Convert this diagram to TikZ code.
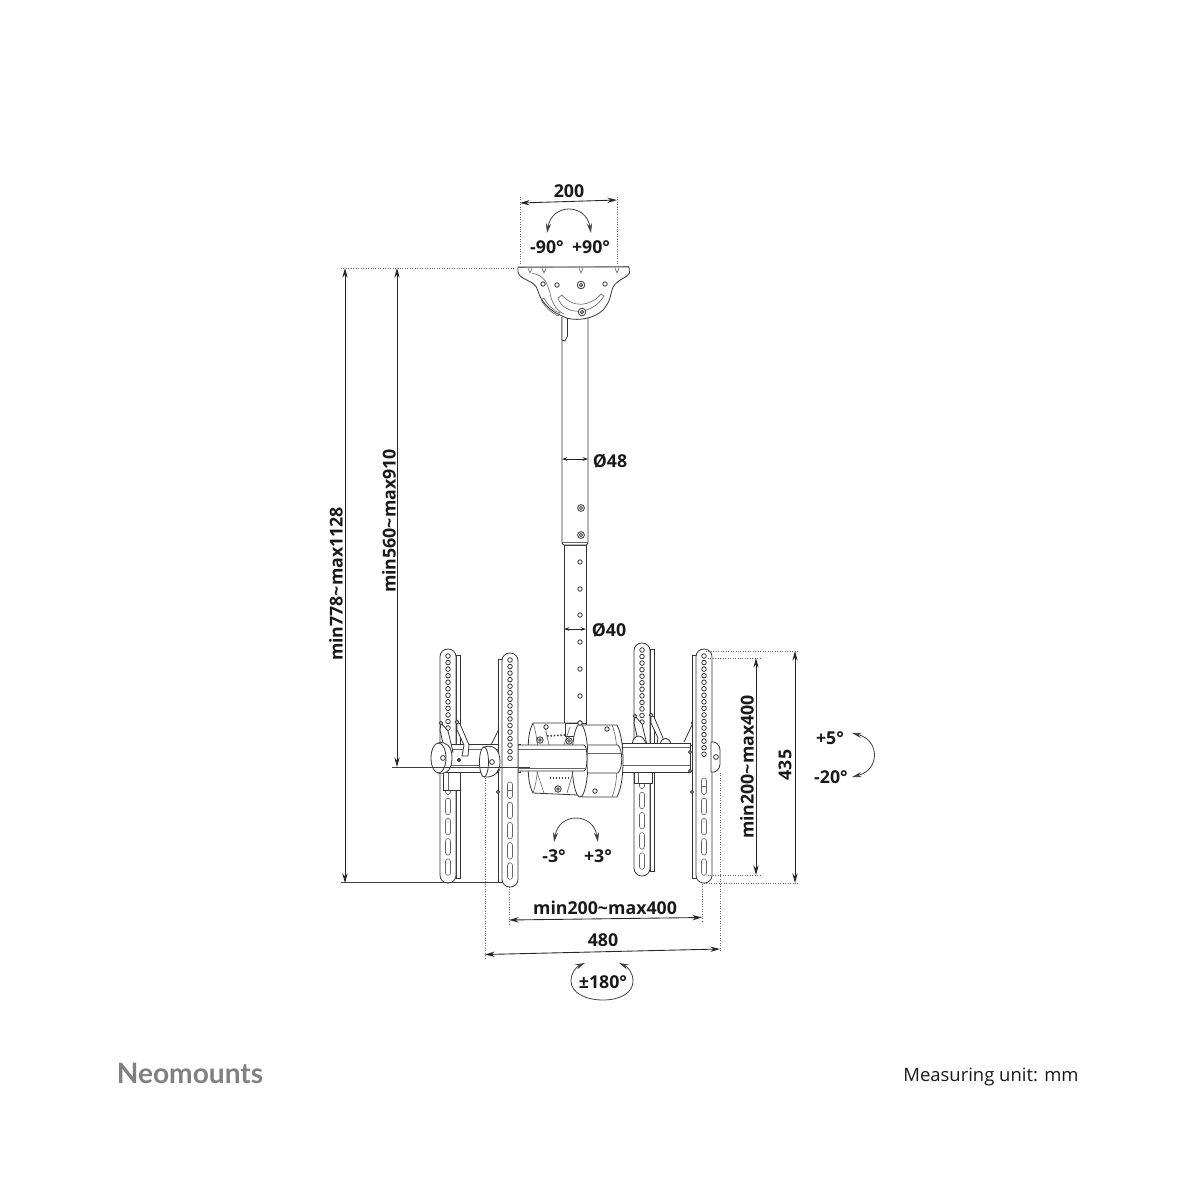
\documentclass[tikz,border=0pt]{standalone}
\usepackage{fontspec}
\usetikzlibrary{arrows.meta}
\setmainfont{Open Sans}
\newfontfamily\logofont{Lato}

\tikzset{
part/.style={draw=black!80, line width=0.45pt, fill=white},
detail/.style={draw=black!60, line width=0.35pt},
dim/.style={draw=black!85, line width=0.5pt, {Stealth[length=5.5pt,width=3pt]}-{Stealth[length=5.5pt,width=3pt]}},
tinydim/.style={draw=black!85, line width=0.4pt, {Stealth[length=3pt,width=2pt]}-{Stealth[length=3pt,width=2pt]}},
turn/.style={draw=black!75, line width=0.45pt, {Stealth[length=5.5pt,width=3pt]}-{Stealth[length=5.5pt,width=3pt]}},
guide/.style={draw=black!60, line width=0.4pt, densely dotted},
leader/.style={draw=black!75, line width=0.4pt},
lab/.style={font=\fontsize{10.1}{12}\selectfont\bfseries, inner sep=0pt, text=black!90},
hole/.style={draw=black!80, line width=0.45pt, fill=white}
}

% x of the plate centre, top, bottom, side of the flange, last hole number, y of first slot
\newcommand{\vplate}[6]{
\draw[part] ({#1+#4*8},{#2+6}) rectangle ({#1+#4*12},{#3-5});
\draw[part, rounded corners=4.4pt] ({#1-8},#2) rectangle ({#1+8},#3);
\foreach \yy in {0,...,#5} {
	\pgfmathsetmacro{\hy}{#2+7+\yy*6.55}
	\draw[hole] (#1,\hy) circle (2.3);
}
\foreach \yy in {0,...,4} {
	\pgfmathsetmacro{\sy}{#6+\yy*20.2}
	\draw[detail, rounded corners=1.4pt] ({#1-2.5},\sy) rectangle ({#1+2.5},{\sy+16.5});
}
\draw[detail] ({#1-2.5},{#6+8}) -- ({#1+2.5},{#6+8});
}

% the two hooks that hold a far plate on the cross bar
\newcommand{\hookpair}[2]{
\draw[part] ({#1-7},{#2-25}) -- (#1,{#2-17}) -- ({#1+5},{#2+4}) -- ({#1-3},{#2+4}) -- ({#1-8},{#2-18}) -- cycle;
\draw[part] ({#1+9},{#2-26}) -- ({#1+12},{#2-24}) -- ({#1+21},{#2-3}) -- ({#1+20},{#2+8}) -- ({#1+14},{#2+8}) -- ({#1+16},{#2-3}) -- ({#1+9},{#2-18}) -- cycle;
\draw[hole] ({#1-7},{#2-25}) circle (1.8);
\draw[hole] ({#1+9},{#2-26}) circle (1.8);
}

\begin{document}
\begin{tikzpicture}[x=0.02cm,y=-0.02cm]
\useasboundingbox (0,0) rectangle (1200,1200);

% upright pole
\draw[part] (564.5,545) rectangle (586,737);
\foreach \hy in {562,589,615,642,669,696,723} {
	\draw[hole] (580,\hy) circle (2.2);
}
\draw[part, rounded corners=1pt] (562,317) -- (562,545) -- (588,545) -- (588,317);
\draw[detail] (562,542) -- (588,542);
\draw[part] (562,317) -- (562,340) -- (565,341) -- (567.5,336) -- (567.5,318);
\foreach \hy in {508,535} {
	\draw[hole] (581,\hy) circle (3.4);
	\draw[hole] (581,\hy) circle (1.6);
}

% ceiling bracket
\draw[part] (518,267) -- (629,267) -- (629.5,273) .. controls (627,278) and (618,279) .. (613,287)
	.. controls (610,295) and (611,301) .. (603,310) .. controls (593,320) and (572,322) .. (562,316)
	.. controls (550,311) and (541,302) .. (538,291) .. controls (535,279) and (520,281) .. (518,272) -- cycle;
\draw[detail] (518,267.5) -- (629,266.5);
\draw[detail] (532,273) .. controls (545,276) and (547,283) .. (550,293) .. controls (551,300) and (555,310) .. (564,314);
\draw[detail] (558,298) .. controls (564,316) and (592,316) .. (604,296) -- (601,294) .. controls (590,307) and (572,308) .. (562,295) -- cycle;
\draw[detail] (544,298) .. controls (548,306) and (554,311) .. (560,313) -- (558,316) .. controls (552,313) and (545,307) .. (541,300) -- cycle;
\foreach \hx/\hy in {543/284, 557/285, 605/284} {
	\draw[hole] (\hx,\hy) circle (2.2);
}
\foreach \hx/\hy in {581/285, 582/312} {
	\draw[hole] (\hx,\hy) circle (3.8);
	\draw[hole] (\hx,\hy) circle (1.7);
}
\foreach \hx in {530,544,581,617} {
	\draw[detail] ({\hx-2},268) -- (\hx,273) -- ({\hx+2},268);
}

% far plates, behind the cross bar
\vplate{448}{649}{883}{1}{11}{778}
\vplate{642}{643}{876}{1}{11}{772}
\draw[part] (443,772) rectangle (460,790);
\draw[detail] (448,772) -- (448,790);
\draw[part] (634,772) rectangle (652,783);
\draw[detail] (638,772) -- (638,783);
\hookpair{642}{741}
\draw[part] (632,745) .. controls (633,733) and (644,733) .. (646,745);
\draw[part] (660,745) .. controls (661,736) and (670,736) .. (671,745);

% cross bar
\draw[part] (440,744) rectangle (520,772);
\draw[detail] (440,749) -- (520,749);
\draw[detail] (440,765) -- (520,765);
\draw[part] (622,743) rectangle (690,772);
\draw[detail] (622,747) -- (690,747);
\draw[detail] (622,765) -- (690,765);
\draw[part] (690,745) rectangle (693,771);

% hooks of the left plate, in front of the bar
\hookpair{448}{748}
\fill[black!75] (459,760) circle (2);

% centre housing
\draw[part] (533,723) -- (578,723) -- (578,795) -- (533,793) .. controls (529,785) and (528,778) .. (528,758) .. controls (528,738) and (529,731) .. (533,723);
\draw[part] (565,723) rectangle (586,736);
\draw[detail] (533,723) .. controls (536,731) and (538,745) .. (538,758) .. controls (538,771) and (536,785) .. (533,793);
\draw[part] (580,725) -- (617,725) .. controls (621,733) and (623,745) .. (623,761) .. controls (623,777) and (621,789) .. (617,797) -- (582,797) -- cycle;
\draw[part] (580,760.5) ellipse [x radius=8, y radius=36.5];
\draw[detail] (612,725) .. controls (616,735) and (617,745) .. (617,761) .. controls (617,777) and (616,787) .. (612,797);
\draw[part] (518,745) -- (584,745) .. controls (588,745) and (588,771) .. (584,771) -- (518,771) -- cycle;
\draw[detail] (518,749) -- (586,749);
\draw[detail] (518,768) -- (586,768);
\draw[part] (588,745) -- (618,745) .. controls (623,750) and (623,768) .. (618,773) -- (588,773);
\draw[detail] (588,753) -- (621,753);
\draw[detail] (545,727) -- (549,745);
\draw[detail] (570,727) -- (564,745);
\draw[detail] (537,772) -- (544,793);
\draw[detail] (573,772) -- (567,793);
\draw[line width=0.9pt, black!75, densely dotted] (547,736) -- (565,735);
\draw[line width=0.7pt, black!75, densely dotted] (550,778) -- (568,778);
\foreach \hx/\hy in {546/727, 580/723, 607/729, 595/791} {
	\draw[hole] (\hx,\hy) circle (2.2);
}
\foreach \hx/\hy in {540/740, 569/741, 558/789} {
	\draw[hole] (\hx,\hy) circle (3.2);
	\draw[hole] (\hx,\hy) circle (1.4);
}

% front plates
\draw[part] (500,727) -- (491,745);
\draw[hole] (500,727) circle (1.8);
\draw[part] (693,723) -- (684,742);
\draw[hole] (693,723) circle (1.8);
\vplate{510}{653}{887}{-1}{15}{782}
\vplate{704}{649}{883}{-1}{15}{778}
\foreach \hx/\hy in {498/770, 498/792, 690/752, 690/771, 692/792} {
	\draw[hole] (\hx,\hy) circle (1.5);
}

% knobs
\draw[part] (438,743) .. controls (446,741) and (452,746) .. (452,758) .. controls (452,768) and (448,775) .. (438,773) -- cycle;
\draw[part] (438.5,758) ellipse [x radius=7.5, y radius=15];
\draw[hole] (443,758) circle (2.4);
\draw[part] (484,747) .. controls (494,744) and (500,750) .. (500,762) .. controls (500,772) and (494,778) .. (484,777) -- cycle;
\draw[part] (484,762) ellipse [x radius=4.5, y radius=15];
\draw[hole] (492,762) circle (2.4);
\draw[part] (711,742) .. controls (716,741) and (720,745) .. (720,750) -- (720,764) .. controls (720,769) and (716,773) .. (711,772) -- cycle;
\draw[hole] (716,757) circle (2.4);

% end points of the measures
\coordinate (top200a) at (520,203);
\coordinate (top200b) at (617,200);
\coordinate (l778a) at (345,268);
\coordinate (l778b) at (345,883);
\coordinate (l560a) at (397,268);
\coordinate (l560b) at (397,767);
\coordinate (r200a) at (756,658);
\coordinate (r200b) at (756,875);
\coordinate (r435a) at (795,651);
\coordinate (r435b) at (795,883);
\coordinate (b200a) at (509,920);
\coordinate (b200b) at (702,917.5);
\coordinate (b480a) at (485,954.5);
\coordinate (b480b) at (720,949);
\coordinate (d48a) at (562,459);
\coordinate (d48b) at (588,459);
\coordinate (d40a) at (564,629);
\coordinate (d40b) at (586,629);

% dotted and thin leaders
\draw[guide] (520,197) -- (520,265);
\draw[guide] (617,197) -- (617,265);
\draw[guide] (341,268) -- (515,268);
\draw[leader] (341,882) -- (500,882);
\draw[leader] (392,767) -- (530,767);
\draw[guide] (706,651) -- (799,651);
\draw[guide] (708,658) -- (761,658);
\draw[guide] (708,875) -- (761,875);
\draw[guide] (704,883) -- (799,883);
\draw[guide] (509,887) -- (509,924);
\draw[guide] (702,884) -- (702,921);
\draw[guide] (485,778) -- (485,958);
\draw[guide] (720,773) -- (720,952);

% measures
\draw[dim] (top200a) -- (top200b);
\draw[dim] (l778a) -- (l778b);
\draw[dim] (l560a) -- (l560b);
\draw[dim] (r200a) -- (r200b);
\draw[dim] (r435a) -- (r435b);
\draw[dim] (b200a) -- (b200b);
\draw[dim] (b480a) -- (b480b);
\draw[tinydim] (d48a) -- (d48b);
\draw[tinydim] (d40a) -- (d40b);

% turning arrows
\coordinate (pan90a) at (547,233);
\coordinate (pan90b) at (591,233);
\coordinate (roll3a) at (554,842);
\coordinate (roll3b) at (598,842);
\coordinate (tilta) at (852,733);
\coordinate (tiltb) at (852,777);
\coordinate (spina) at (585,963);
\coordinate (spinb) at (619,963);
\draw[turn] (pan90a) .. controls (552,203) and (586,203) .. (pan90b);
\draw[turn] (roll3a) .. controls (559,812) and (593,812) .. (roll3b);
\draw[turn] (tilta) .. controls (880,740) and (880,770) .. (tiltb);
\draw[turn] (spina) .. controls (576,967) and (571,973) .. (571,981) .. controls (571,993) and (586,1000) .. (603,1000) .. controls (620,1000) and (633,993) .. (633,981) .. controls (633,973) and (628,967) .. (spinb);

% labels
\node[lab] (t200) at (569,191) {200};
\node[lab] (t90a) at (547,247) {-90°};
\node[lab] (t90b) at (591,247) {+90°};
\node[lab, rotate=90] (t778) at (336,584) {min778\textasciitilde max1128};
\node[lab, rotate=90] (t560) at (389,521) {min560\textasciitilde max910};
\node[lab] (t48) at (610,461) {Ø48};
\node[lab] (t40) at (609,630) {Ø40};
\node[lab, rotate=90] (tr200) at (747,767) {min200\textasciitilde max400};
\node[lab, rotate=90] (t435) at (785,765) {435};
\node[lab] (t5) at (830,738) {+5°};
\node[lab] (t20) at (831,777) {-20°};
\node[lab] (t3a) at (554,856) {-3°};
\node[lab] (t3b) at (598,856) {+3°};
\node[lab] (tb200) at (605,908) {min200\textasciitilde max400};
\node[lab] (t480) at (603,940) {480};
\node[lab] (t180) at (603,982) {±180°};

\node[font=\logofont\fontsize{16}{18}\selectfont\bfseries, text=black!50, inner sep=0pt] (logo) at (190,1073) {Neomounts};
\node[font=\fontsize{10.5}{12}\selectfont, inner sep=0pt, text=black!90] (unit) at (991,1077) {Measuring unit: mm};
\end{tikzpicture}
\end{document}
